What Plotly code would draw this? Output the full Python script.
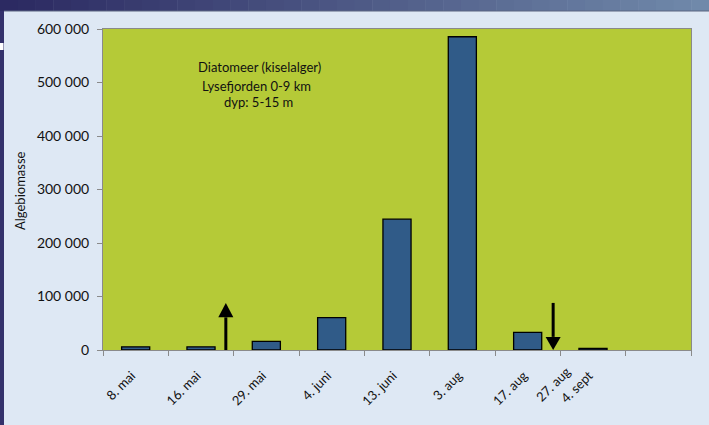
import plotly.graph_objects as go

# ---- data ----
categories = ["8. mai", "16. mai", "29. mai", "4. juni", "13. juni", "3. aug", "17. aug", "4. sept", " "]
bar_dates = ["8. mai", "16. mai", "29. mai", "4. juni", "13. juni", "3. aug", "17. aug", "4. sept"]
biomass = [6000, 6000, 16000, 60500, 244500, 585500, 33000, 3000]
y_ticks = [0, 100000, 200000, 300000, 400000, 500000, 600000]
title_lines = ["Diatomeer (kiselalger)", "Lysefjorden 0-9 km", "dyp: 5-15 m"]
extra_label = "27. aug"
y_title = "Algebiomasse"

W, H = 709, 425
L, R, T, B = 103, 691, 29, 350  # plot area in pixels

def px(x):
    return (x - L) / (R - L)

def py(y):
    return (B - y) / (B - T)

FONT = "Lato, 'Open Sans', sans-serif"

fig = go.Figure()
fig.add_trace(go.Bar(
    x=bar_dates, y=biomass,
    width=0.43,
    marker=dict(color="#305B88", line=dict(color="#000000", width=1.3)),
    hoverinfo="x+y",
))

shapes = []
# top gradient strip
n = 40
c0 = (0x2C, 0x2A, 0x62)
c1 = (0x70, 0x89, 0xAA)
for i in range(n):
    t = i / (n - 1)
    col = "rgb(%d,%d,%d)" % tuple(int(a + (b - a) * t) for a, b in zip(c0, c1))
    x0 = W * i / n
    x1 = W * (i + 1) / n + 0.5
    shapes.append(dict(type="rect", xref="paper", yref="paper",
                       x0=px(x0), x1=px(x1), y0=py(11), y1=py(-1),
                       line=dict(width=0), fillcolor=col, layer="above"))
# left strip
shapes.append(dict(type="rect", xref="paper", yref="paper",
                   x0=px(-1), x1=px(4), y0=py(426), y1=py(11),
                   line=dict(width=0), fillcolor="#33316B", layer="above"))
# small white mark on left strip
shapes.append(dict(type="rect", xref="paper", yref="paper",
                   x0=px(-1), x1=px(3.5), y0=py(50), y1=py(43),
                   line=dict(width=0), fillcolor="#FFFFFF", layer="above"))
# line under top strip
shapes.append(dict(type="line", xref="paper", yref="paper",
                   x0=px(4), x1=px(W), y0=py(11), y1=py(11),
                   line=dict(width=1, color="#5A6480"), layer="above"))

# arrows (shaft + head), positions in axis units
arrow_up = dict(x=1.38, tail=0, tip=88000, head_base=61000, half=0.115)
arrow_dn = dict(x=6.39, tail=88000, tip=0, head_base=24500, half=0.115)
for a in (arrow_up, arrow_dn):
    shapes.append(dict(type="line", xref="x", yref="y",
                       x0=a["x"], x1=a["x"], y0=a["tail"], y1=a["head_base"],
                       line=dict(width=3, color="#000000"), layer="above"))
    path = "M %f,%f L %f,%f L %f,%f Z" % (
        a["x"] - a["half"], a["head_base"], a["x"] + a["half"], a["head_base"], a["x"], a["tip"])
    shapes.append(dict(type="path", xref="x", yref="y", path=path,
                       fillcolor="#000000", line=dict(width=0), layer="above"))

annotations = []
line_x = [196, 200, 222]
line_y = [67.5, 86, 102.5]
for txt, lx, ly in zip(title_lines, line_x, line_y):
    annotations.append(dict(text=txt, xref="paper", yref="paper", x=px(lx), y=py(ly),
                            xanchor="left", yanchor="middle", showarrow=False,
                            font=dict(family=FONT, size=13, color="#111111")))
annotations.append(dict(text=extra_label, xref="paper", yref="paper", x=px(553), y=py(384),
                        xanchor="center", yanchor="middle", showarrow=False, textangle=-45,
                        font=dict(family=FONT, size=13, color="#111111")))
annotations.append(dict(text=y_title, xref="paper", yref="paper", x=px(20), y=py(191),
                        xanchor="center", yanchor="middle", showarrow=False, textangle=-90,
                        font=dict(family=FONT, size=13, color="#111111")))

fig.update_layout(
    width=W, height=H,
    margin=dict(l=L, r=W - R, t=T, b=H - B, pad=0),
    paper_bgcolor="#DEE8F4",
    plot_bgcolor="#B5CA37",
    showlegend=False,
    separators=", ",
    bargap=0.57,
    shapes=shapes,
    annotations=annotations,
    font=dict(family=FONT, color="#111111"),
)
fig.update_xaxes(
    type="category", categoryorder="array", categoryarray=categories,
    range=[-0.5, len(categories) - 0.5],
    tickson="boundaries", ticks="outside", ticklen=5, tickcolor="#8a8a8a",
    showline=True, linecolor="#8a8a8a", linewidth=1, mirror=True,
    tickangle=-45, tickfont=dict(family=FONT, size=13, color="#111111"),
    showgrid=False, ticklabelstandoff=12, ticklabelshift=-4,
)
fig.update_yaxes(
    range=[0, 600000], tickvals=y_ticks, tickformat=",d",
    ticks="outside", ticklen=5, tickcolor="#8a8a8a",
    showline=True, linecolor="#8a8a8a", linewidth=1, mirror=True,
    showgrid=False, zeroline=False, ticklabelstandoff=5,
    tickfont=dict(family=FONT, size=14, color="#111111"),
)

fig.write_html("out.html", config={"displayModeBar": False},
               post_script="document.body.style.margin='0';document.body.style.overflow='hidden';")
